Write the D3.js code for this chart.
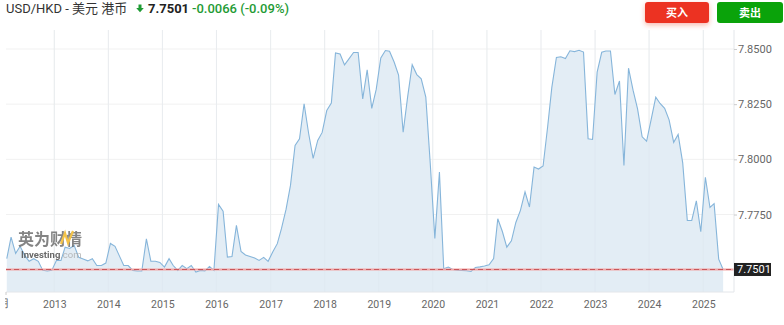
<!DOCTYPE html>
<html>
<head>
<meta charset="utf-8">
<script src="https://cdn.jsdelivr.net/npm/d3@7"></script>
<style>
  html, body { margin: 0; padding: 0; background: #fff; }
  svg { display: block; font-family: Roboto, "Noto Sans CJK SC", sans-serif; }
</style>
</head>
<body>
<svg id="chart"></svg>
<script>
// Monthly USD/HKD closes, one row per year (2012 starts in February)
const years = [2012, 2013, 2014, 2015, 2016, 2017, 2018, 2019, 2020, 2021, 2022, 2023, 2024, 2025];
const firstMonthOfYear = [1, 0, 0, 0, 0, 0, 0, 0, 0, 0, 0, 0, 0, 0];
const rates = [
  [7.7550, 7.7648, 7.7574, 7.7606, 7.7565, 7.7538, 7.7550, 7.7538, 7.7497, 7.7494, 7.7497],
  [7.7542, 7.7542, 7.7602, 7.7596, 7.7610, 7.7556, 7.7549, 7.7540, 7.7550, 7.7519, 7.7519, 7.7530],
  [7.7619, 7.7606, 7.7565, 7.7519, 7.7519, 7.7497, 7.7494, 7.7494, 7.7640, 7.7539, 7.7538, 7.7533],
  [7.7512, 7.7550, 7.7519, 7.7497, 7.7519, 7.7505, 7.7519, 7.7489, 7.7497, 7.7495, 7.7515, 7.7497],
  [7.7796, 7.7765, 7.7557, 7.7560, 7.7701, 7.7583, 7.7567, 7.7560, 7.7553, 7.7542, 7.7556, 7.7538],
  [7.7580, 7.7618, 7.7686, 7.7773, 7.7882, 7.8063, 7.8093, 7.8252, 7.8116, 7.8004, 7.8086, 7.8122],
  [7.8221, 7.8255, 7.8482, 7.8477, 7.8428, 7.8456, 7.8484, 7.8484, 7.8274, 7.8406, 7.8231, 7.8317],
  [7.8459, 7.8493, 7.8490, 7.8441, 7.8382, 7.8123, 7.8282, 7.8429, 7.8384, 7.8365, 7.8282, 7.7981],
  [7.7642, 7.7942, 7.7504, 7.7512, 7.7501, 7.7498, 7.7497, 7.7495, 7.7492, 7.7510, 7.7513, 7.7517],
  [7.7522, 7.7551, 7.7731, 7.7673, 7.7602, 7.7631, 7.7714, 7.7769, 7.7853, 7.7784, 7.7965, 7.7956],
  [7.7970, 7.8149, 7.8326, 7.8462, 7.8465, 7.8457, 7.8492, 7.8488, 7.8494, 7.8486, 7.8093, 7.8090],
  [7.8395, 7.8485, 7.8491, 7.8491, 7.8294, 7.8355, 7.7972, 7.8413, 7.8312, 7.8229, 7.8102, 7.8082],
  [7.8181, 7.8282, 7.8253, 7.8231, 7.8179, 7.8077, 7.8113, 7.7984, 7.7723, 7.7723, 7.7812, 7.7672],
  [7.7919, 7.7782, 7.7799, 7.7548, 7.7501]
];
const yTicks = [7.775, 7.8, 7.825, 7.85];
const xTickYears = [2013, 2014, 2015, 2016, 2017, 2018, 2019, 2020, 2021, 2022, 2023, 2024, 2025];
const lastPrice = 7.7501;
const change = "-0.0066";
const changePct = "(-0.09%)";

// build the series
const data = [];
years.forEach((yr, i) => {
  rates[i].forEach((v, j) => {
    data.push({ date: new Date(yr, firstMonthOfYear[i] + j, 15), value: v });
  });
});

const width = 784, height = 325;
const plot = { left: 6, right: 734, top: 30, bottom: 292 };

const svg = d3.select('#chart')
  .attr('width', width)
  .attr('height', height);

// time scale anchored on the year ticks
const x = d3.scaleTime()
  .domain([new Date(2013, 0, 1), new Date(2025, 0, 1)])
  .range([54.3, 703.3]);

const y = d3.scaleLinear()
  .domain([7.7399, 7.8586])
  .range([plot.bottom, plot.top]);

const green = '#1f9b35';

// header
const header = svg.append('g');
header.append('text')
  .attr('x', 6)
  .attr('y', 13)
  .attr('fill', '#333')
  .style('font-size', '13px')
  .text('USD/HKD - 美元 港币');

// little down arrow
header.append('path')
  .attr('d', 'M138.5,4.5 h3 v3.5 h2.3 l-3.8,4.3 l-3.8,-4.3 h2.3 z')
  .attr('fill', green);

header.append('text')
  .attr('x', 148)
  .attr('y', 13)
  .attr('fill', '#222')
  .style('font-size', '13px')
  .style('font-weight', 'bold')
  .text(lastPrice.toFixed(4));

header.append('text')
  .attr('x', 192)
  .attr('y', 13)
  .attr('fill', green)
  .style('font-size', '13px')
  .style('font-weight', 500)
  .text(change + ' ' + changePct);

// buttons
const defs = svg.append('defs');
defs.append('filter')
  .attr('id', 'redGlow')
  .attr('x', '-30%').attr('y', '-50%').attr('width', '160%').attr('height', '220%')
  .append('feDropShadow')
  .attr('dx', 0).attr('dy', 2).attr('stdDeviation', 2.5)
  .attr('flood-color', '#ec3224').attr('flood-opacity', 0.35);

const buttons = [
  { label: '买入', x: 645, w: 64, color: '#ec3224', glow: true },
  { label: '卖出', x: 717, w: 66, color: '#0aa30a', glow: false }
];
buttons.forEach(b => {
  svg.append('rect')
    .attr('x', b.x).attr('y', 2)
    .attr('width', b.w).attr('height', 21)
    .attr('rx', 3)
    .attr('fill', b.color)
    .attr('filter', b.glow ? 'url(#redGlow)' : null);
  svg.append('text')
    .attr('x', b.x + b.w / 2)
    .attr('y', 16.5)
    .attr('text-anchor', 'middle')
    .attr('fill', '#fff')
    .style('font-size', '11px')
    .style('font-weight', 'bold')
    .text(b.label);
});

// horizontal gridlines
svg.append('g').selectAll('line')
  .data(yTicks)
  .enter().append('line')
  .attr('x1', plot.left).attr('x2', plot.right)
  .attr('y1', d => y(d)).attr('y2', d => y(d))
  .attr('stroke', '#f1f1f1');

// vertical gridlines
svg.append('g').selectAll('line')
  .data(xTickYears)
  .enter().append('line')
  .attr('x1', d => x(new Date(d, 0, 1))).attr('x2', d => x(new Date(d, 0, 1)))
  .attr('y1', plot.top).attr('y2', plot.bottom)
  .attr('stroke', '#f1f1f1');

// area + line
const area = d3.area()
  .x(d => x(d.date))
  .y0(plot.bottom)
  .y1(d => y(d.value));

const line = d3.line()
  .x(d => x(d.date))
  .y(d => y(d.value));

svg.append('path')
  .datum(data)
  .attr('d', area)
  .attr('fill', '#e3edf5');

// gridlines show faintly through the fill
svg.append('g').selectAll('line')
  .data(xTickYears)
  .enter().append('line')
  .attr('x1', d => x(new Date(d, 0, 1))).attr('x2', d => x(new Date(d, 0, 1)))
  .attr('y1', plot.top).attr('y2', plot.bottom)
  .attr('stroke', '#d9e3ec')
  .attr('stroke-opacity', 0.35);

svg.append('path')
  .datum(data)
  .attr('d', line)
  .attr('fill', 'none')
  .attr('stroke', '#86b5da')
  .attr('stroke-width', 1.1);

// watermark
const wm = svg.append('g').attr('opacity', 0.8);
wm.append('text')
  .attr('x', 18).attr('y', 244.5)
  .attr('fill', '#666')
  .style('font-size', '16px')
  .style('font-weight', 'bold')
  .style('font-family', '"Noto Sans CJK SC", sans-serif')
  .text('英为财情');
wm.append('path')
  .attr('d', 'M61,244 L65,233 L68,243 L73,231')
  .attr('fill', 'none')
  .attr('stroke', '#f2b51c')
  .attr('stroke-width', 2.2);
const wmText = wm.append('text')
  .attr('x', 21).attr('y', 257.5)
  .style('font-size', '9.5px');
wmText.append('tspan').attr('fill', '#444').style('font-weight', 'bold').text('Investing');
wmText.append('tspan').attr('fill', '#aaa').text('.com');

// last price reference line
svg.append('line')
  .attr('x1', plot.left).attr('x2', plot.right)
  .attr('y1', y(lastPrice)).attr('y2', y(lastPrice))
  .attr('stroke', '#f2a5a5')
  .attr('stroke-width', 2);
svg.append('line')
  .attr('x1', plot.left).attr('x2', plot.right)
  .attr('y1', y(lastPrice)).attr('y2', y(lastPrice))
  .attr('stroke', '#c9555a')
  .attr('stroke-width', 1)
  .attr('stroke-dasharray', '5,3');

// plot frame (right + bottom)
svg.append('line')
  .attr('x1', plot.right).attr('x2', plot.right)
  .attr('y1', plot.top).attr('y2', plot.bottom)
  .attr('stroke', '#e3e6ea');
svg.append('line')
  .attr('x1', plot.left).attr('x2', plot.right)
  .attr('y1', plot.bottom).attr('y2', plot.bottom)
  .attr('stroke', '#e3e6ea');

// y axis on the right
const yAxis = svg.append('g')
  .attr('transform', `translate(${plot.right},0)`)
  .call(d3.axisRight(y).tickValues(yTicks).tickSize(3).tickPadding(1).tickFormat(d3.format('.4f')));
yAxis.select('.domain').remove();
yAxis.selectAll('line').attr('stroke', '#ccc');
yAxis.selectAll('text')
  .attr('fill', '#666')
  .style('font-size', '11px')
  .style('font-family', 'Roboto, sans-serif');

// last price badge
svg.append('rect')
  .attr('x', plot.right).attr('y', y(lastPrice) - 6.5)
  .attr('width', 37).attr('height', 13)
  .attr('fill', '#222');
svg.append('text')
  .attr('x', plot.right + 3).attr('y', y(lastPrice) + 4)
  .attr('fill', '#fff')
  .style('font-size', '11px')
  .text(lastPrice.toFixed(4));

// x axis (left edge label is cut by the chart frame)
defs.append('clipPath').attr('id', 'xclip')
  .append('rect').attr('x', 5).attr('y', 0).attr('width', width).attr('height', 40);

const xAxis = svg.append('g')
  .attr('transform', `translate(0,${plot.bottom})`)
  .attr('clip-path', 'url(#xclip)');
xAxis.call(d3.axisBottom(x)
  .tickValues(xTickYears.map(d => new Date(d, 0, 1)))
  .tickSize(0).tickPadding(9)
  .tickFormat(d3.timeFormat('%Y')));
xAxis.select('.domain').remove();
xAxis.selectAll('text')
  .attr('fill', '#666')
  .style('font-size', '10.5px')
  .style('font-family', 'Roboto, sans-serif');

xAxis.append('text')
  .attr('x', 10.5).attr('y', 15)
  .attr('text-anchor', 'end')
  .attr('fill', '#666')
  .style('font-size', '10.5px')
  .text('2月');
xAxis.append('line')
  .attr('x1', 6).attr('x2', 6).attr('y1', 0).attr('y2', 3)
  .attr('stroke', '#ccc');
</script>
</body>
</html>
